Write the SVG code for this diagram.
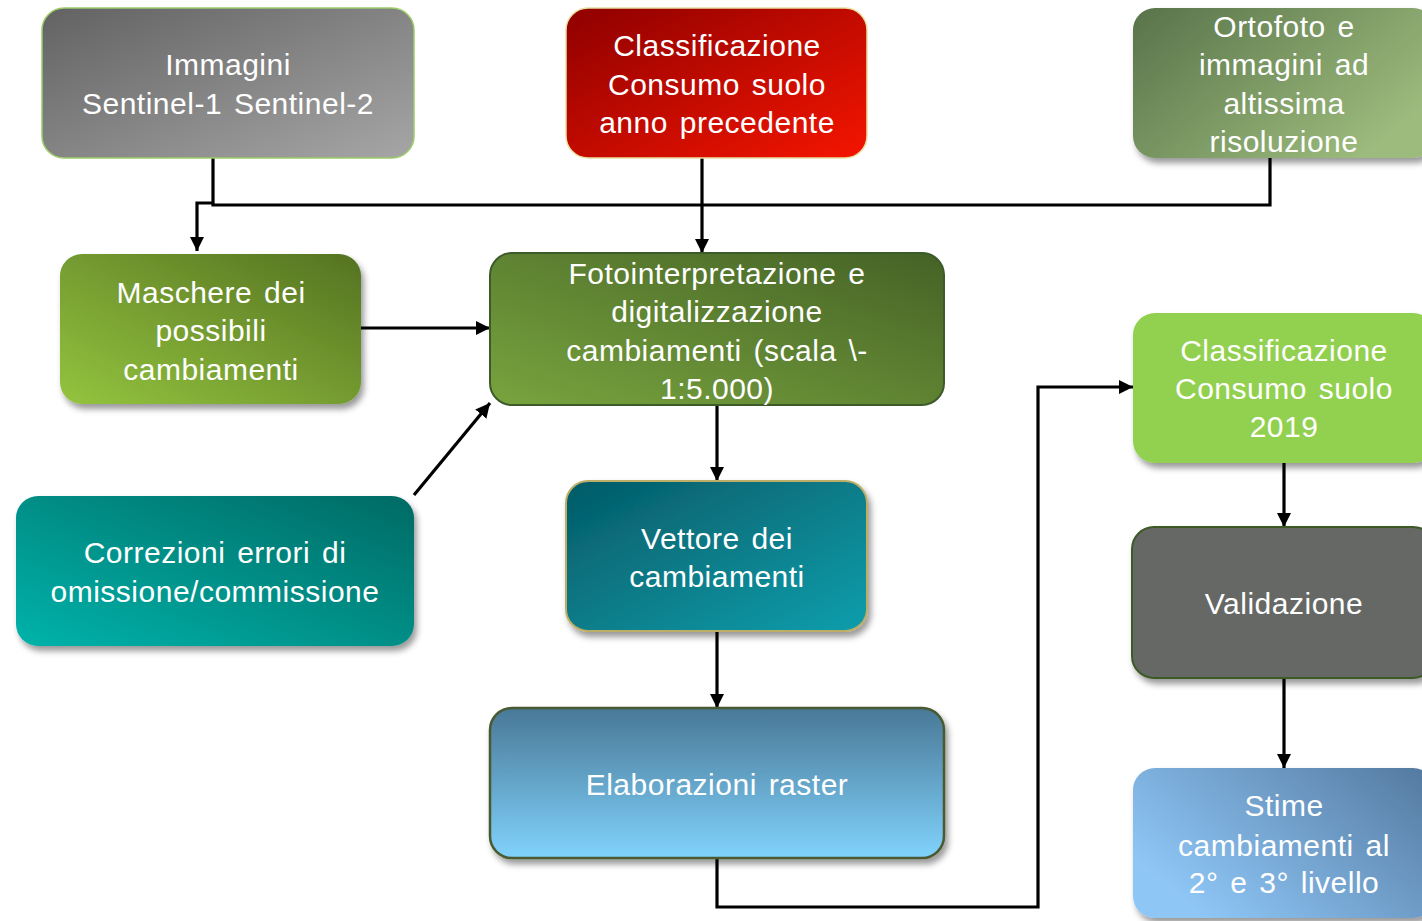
<svg xmlns="http://www.w3.org/2000/svg" width="1422" height="921" viewBox="0 0 1422 921">
<defs>
<style>
.t{font-family:"Liberation Sans",Arial,sans-serif;font-size:30px;fill:#ffffff;text-anchor:middle;word-spacing:3px;letter-spacing:0.5px}
.c{fill:none;stroke:#000;stroke-width:3.2}
</style>
<filter id="sh" x="-10%" y="-10%" width="125%" height="130%">
<feDropShadow dx="3" dy="5" stdDeviation="3" flood-color="#000" flood-opacity="0.4"/>
</filter>
<marker id="ah" viewBox="0 0 10 10" refX="10" refY="5" markerWidth="4.5" markerHeight="4.5" markerUnits="strokeWidth" orient="auto">
<path d="M0,0 L10,5 L0,10 z" fill="#000"/>
</marker>
<linearGradient id="gGrey" x1="0" y1="0" x2="1" y2="1"><stop offset="0" stop-color="#626262"/><stop offset="1" stop-color="#a6a6a6"/></linearGradient>
<linearGradient id="gRed" x1="0" y1="0" x2="1" y2="1"><stop offset="0" stop-color="#8e0000"/><stop offset="1" stop-color="#f51500"/></linearGradient>
<linearGradient id="gOrto" x1="0" y1="0" x2="1" y2="0.6"><stop offset="0" stop-color="#58734a"/><stop offset="1" stop-color="#9cbb7c"/></linearGradient>
<linearGradient id="gMasc" x1="0" y1="1" x2="1" y2="0"><stop offset="0" stop-color="#93c43e"/><stop offset="1" stop-color="#557222"/></linearGradient>
<linearGradient id="gFoto" x1="0" y1="1" x2="1" y2="0"><stop offset="0" stop-color="#78a43e"/><stop offset="1" stop-color="#456226"/></linearGradient>
<linearGradient id="gCorr" x1="0" y1="1" x2="1" y2="0"><stop offset="0" stop-color="#00b3aa"/><stop offset="1" stop-color="#016a64"/></linearGradient>
<linearGradient id="gVett" x1="0" y1="0" x2="1" y2="1"><stop offset="0" stop-color="#045a66"/><stop offset="1" stop-color="#109eac"/></linearGradient>
<linearGradient id="gElab" x1="0" y1="0" x2="0" y2="1"><stop offset="0" stop-color="#497896"/><stop offset="1" stop-color="#80d2fc"/></linearGradient>
<linearGradient id="gStime" x1="0" y1="0.6" x2="1" y2="0"><stop offset="0" stop-color="#8ec6f6"/><stop offset="1" stop-color="#53789e"/></linearGradient>
</defs>
<rect width="1422" height="921" fill="#ffffff"/>

<g id="connectors">
<path class="c" d="M213,158 V205 H1270 V157"/>
<path class="c" d="M213,203 H197 V251" marker-end="url(#ah)"/>
<path class="c" d="M702,157 V253" marker-end="url(#ah)"/>
<path class="c" d="M361,328 H490" marker-end="url(#ah)"/>
<path class="c" d="M414,495 L490,403" marker-end="url(#ah)"/>
<path class="c" d="M717,405 V481" marker-end="url(#ah)"/>
<path class="c" d="M717,631 V708" marker-end="url(#ah)"/>
<path class="c" d="M717,858 V907 H1038 V387 H1133" marker-end="url(#ah)"/>
<path class="c" d="M1284,463 V527" marker-end="url(#ah)"/>
<path class="c" d="M1284,678 V768" marker-end="url(#ah)"/>
</g>

<g id="n-immagini">
<rect x="42" y="8" width="372" height="150" rx="22" fill="url(#gGrey)" stroke="#9ccc6a" stroke-width="1.5"/>
<text class="t" x="228" y="75">Immagini</text>
<text class="t" x="228" y="114">Sentinel-1 Sentinel-2</text>
</g>

<g id="n-classprec">
<rect x="566" y="8" width="301" height="150" rx="22" fill="url(#gRed)" stroke="#e8e0a0" stroke-width="1.5"/>
<text class="t" x="717" y="56">Classificazione</text>
<text class="t" x="717" y="95">Consumo suolo</text>
<text class="t" x="717" y="133">anno precedente</text>
</g>

<g id="n-ortofoto">
<rect x="1133" y="8" width="302" height="150" rx="22" fill="url(#gOrto)" filter="url(#sh)"/>
<text class="t" x="1284" y="37">Ortofoto e</text>
<text class="t" x="1284" y="75">immagini ad</text>
<text class="t" x="1284" y="114">altissima</text>
<text class="t" x="1284" y="152">risoluzione</text>
</g>

<g id="n-maschere">
<rect x="60" y="254" width="301" height="150" rx="22" fill="url(#gMasc)" filter="url(#sh)"/>
<text class="t" x="211" y="303">Maschere dei</text>
<text class="t" x="211" y="341">possibili</text>
<text class="t" x="211" y="380">cambiamenti</text>
</g>

<g id="n-foto">
<rect x="490" y="253" width="454" height="152" rx="22" fill="url(#gFoto)" stroke="#3c5a2a" stroke-width="2"/>
<text class="t" x="717" y="284">Fotointerpretazione e</text>
<text class="t" x="717" y="322">digitalizzazione</text>
<text class="t" x="717" y="361">cambiamenti (scala \-</text>
<text class="t" x="717" y="399">1:5.000)</text>
</g>

<g id="n-correzioni">
<rect x="16" y="496" width="398" height="150" rx="22" fill="url(#gCorr)" filter="url(#sh)"/>
<text class="t" x="215" y="563">Correzioni errori di</text>
<text class="t" x="215" y="602">omissione/commissione</text>
</g>

<g id="n-vettore">
<rect x="566" y="481" width="301" height="150" rx="22" fill="url(#gVett)" stroke="#bcae66" stroke-width="2" filter="url(#sh)"/>
<text class="t" x="717" y="549">Vettore dei</text>
<text class="t" x="717" y="587">cambiamenti</text>
</g>

<g id="n-elaborazioni">
<rect x="490" y="708" width="454" height="150" rx="22" fill="url(#gElab)" stroke="#4a5a30" stroke-width="2.5" filter="url(#sh)"/>
<text class="t" x="717" y="795">Elaborazioni raster</text>
</g>

<g id="n-class2019">
<rect x="1133" y="313" width="302" height="150" rx="22" fill="#92d050" filter="url(#sh)"/>
<text class="t" x="1284" y="361">Classificazione</text>
<text class="t" x="1284" y="399">Consumo suolo</text>
<text class="t" x="1284" y="437">2019</text>
</g>

<g id="n-validazione">
<rect x="1132" y="527" width="303" height="151" rx="22" fill="#666866" stroke="#3e5a28" stroke-width="2" filter="url(#sh)"/>
<text class="t" x="1284" y="614">Validazione</text>
</g>

<g id="n-stime">
<rect x="1133" y="768" width="302" height="150" rx="22" fill="url(#gStime)" filter="url(#sh)"/>
<text class="t" x="1284" y="816">Stime</text>
<text class="t" x="1284" y="856">cambiamenti al</text>
<text class="t" x="1284" y="893">2° e 3° livello</text>
</g>
</svg>
